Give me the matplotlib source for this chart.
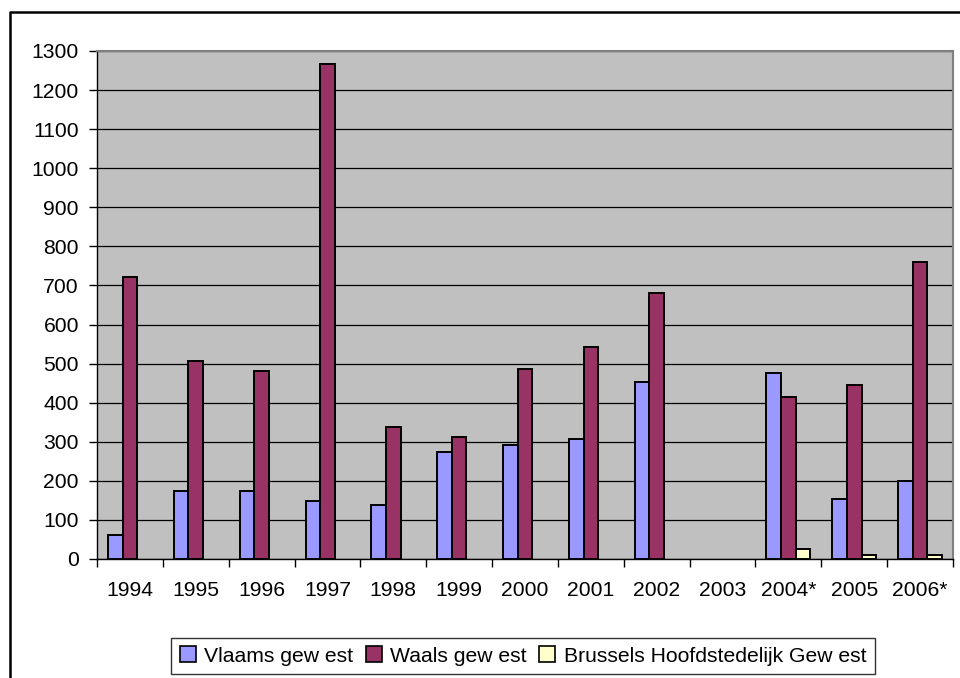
import matplotlib
matplotlib.use("Agg")
import matplotlib.pyplot as plt
import numpy as np
from matplotlib.lines import Line2D
from matplotlib.patches import Patch

plt.rcParams['font.family'] = ['Liberation Sans', 'DejaVu Sans']

years = ["1994", "1995", "1996", "1997", "1998", "1999", "2000", "2001", "2002", "2003", "2004*", "2005", "2006*"]
vlaams = [61, 174, 174, 148, 138, 275, 291, 306, 454, 0, 475, 153, 200]
waals = [721, 506, 481, 1266, 338, 311, 486, 542, 680, 0, 414, 445, 761]
brussels = [0, 0, 0, 0, 0, 0, 0, 0, 0, 0, 26, 10, 10]
series_names = ["Vlaams gew est", "Waals gew est", "Brussels Hoofdstedelijk Gew est"]
colors = ["#9999FF", "#993366", "#FFFFCC"]

W, H = 960, 678
fig = plt.figure(figsize=(W / 100, H / 100), dpi=100)
ax = fig.add_axes([97 / W, 1 - 559 / H, 856 / W, 508 / H])
ax.set_facecolor("#C0C0C0")

fs = 15.2
x = np.arange(len(years))
bw = 1 / 4.5
for i, (vals, c) in enumerate(zip([vlaams, waals, brussels], colors)):
    v = np.array(vals, dtype=float)
    mask = v > 0
    ax.bar(x[mask] + (i - 1) * bw, v[mask], width=bw, color=c, edgecolor="black",
           linewidth=1.4, zorder=3)

ax.set_xlim(-0.5, len(years) - 0.5)
ax.set_ylim(0, 1300)
ax.set_yticks(np.arange(0, 1301, 100))
ax.yaxis.grid(True, color="black", linewidth=0.9, zorder=1)
ax.set_axisbelow(True)

ax.set_xticks(x)
ax.set_xticklabels(years, fontsize=fs)
ax.set_xticks(np.arange(-0.5, len(years), 1), minor=True)
ax.tick_params(axis="x", which="major", length=0, pad=16)
ax.tick_params(axis="x", which="minor", length=6, width=1, direction="out", color="black")
ax.tick_params(axis="y", length=6, width=1, direction="out", pad=7, labelsize=fs)

for s in ["top", "right"]:
    ax.spines[s].set_color("#808080")
    ax.spines[s].set_linewidth(1.5)
for s in ["left", "bottom"]:
    ax.spines[s].set_color("black")
    ax.spines[s].set_linewidth(1.0)

# outer chart frame
fig.add_artist(Line2D([10 / W, 10 / W, 1.0], [0, 1 - 12 / H, 1 - 12 / H],
                      transform=fig.transFigure, color="black", linewidth=1.8))

handles = [Patch(facecolor=c, edgecolor="black", linewidth=1.2) for c in colors]
leg = fig.legend(handles, series_names, loc="center", bbox_to_anchor=(523 / W, 1 - 656 / H),
                 ncol=3, fontsize=fs, frameon=True, fancybox=False, shadow=False,
                 handlelength=0.75, handleheight=0.75, handletextpad=0.4, columnspacing=0.6,
                 borderpad=0.4)
leg.get_frame().set_edgecolor("black")
leg.get_frame().set_linewidth(1.0)

fig.savefig("out.png", dpi=100)
